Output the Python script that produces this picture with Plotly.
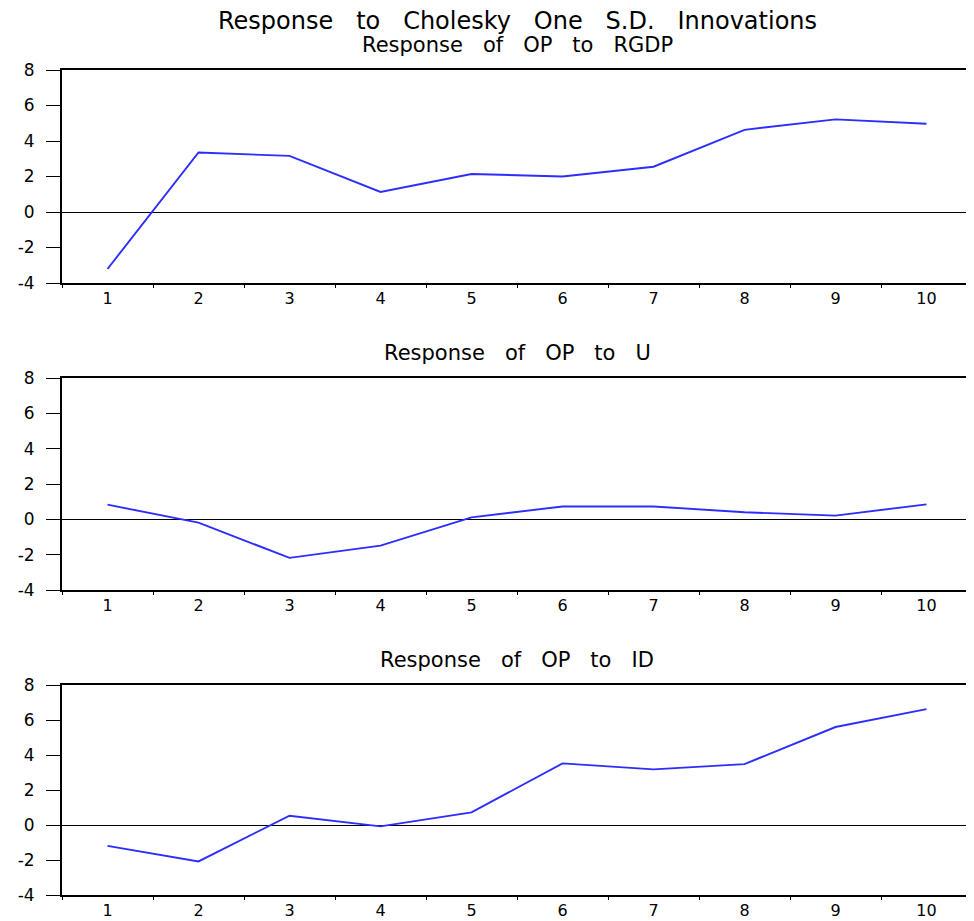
import plotly.graph_objects as go

periods = ["1", "2", "3", "4", "5", "6", "7", "8", "9", "10"]
resp_rgdp = [-3.21, 3.35, 3.16, 1.13, 2.14, 2.00, 2.55, 4.63, 5.22, 4.97]
resp_u = [0.83, -0.19, -2.18, -1.49, 0.11, 0.73, 0.73, 0.40, 0.21, 0.85]
resp_id = [-1.19, -2.08, 0.53, -0.08, 0.72, 3.52, 3.18, 3.48, 5.60, 6.62]
panel_titles = ["Response of OP to RGDP", "Response of OP to U", "Response of OP to ID"]
main_title = "Response to Cholesky One S.D. Innovations"
y_ticks = [-4, -2, 0, 2, 4, 6, 8]

# the page body adds an 8px offset; the figure is sized to the visible area
OFF = 8
W, H = 974 - OFF, 921 - OFF
FONT = "DejaVu Sans"
LINE_COLOR = "rgb(45,45,255)"

# panel pixel boxes (top, bottom) in page pixels
boxes = [(70, 283), (378, 590), (685, 895)]
BOX_LEFT, BOX_RIGHT = 62, 972

fig = go.Figure()
series = [resp_rgdp, resp_u, resp_id]


def spaced(s, n=3):
    return ("\u00a0" * n).join(s.split(" "))


for i, (vals, (top, bot)) in enumerate(zip(series, boxes), start=1):
    xa = "x" if i == 1 else f"x{i}"
    ya = "y" if i == 1 else f"y{i}"
    fig.add_trace(go.Scatter(x=periods, y=vals, mode="lines",
                             line=dict(color=LINE_COLOR, width=1.9),
                             xaxis=xa, yaxis=ya, showlegend=False,
                             hoverinfo="skip"))
    top_f, bot_f = top - OFF, bot - OFF
    dom = [1 - bot_f / H, 1 - top_f / H]
    xkey = "xaxis" if i == 1 else f"xaxis{i}"
    ykey = "yaxis" if i == 1 else f"yaxis{i}"
    fig.update_layout({
        xkey: dict(type="category", domain=[0, 1], anchor=ya,
                   range=[-0.5, len(periods) - 0.5], automargin=False,
                   tickson="boundaries", ticks="outside", ticklen=3,
                   tickcolor="black", tickwidth=1,
                   showline=True, linecolor="black", linewidth=2, mirror=True,
                   showgrid=False, zeroline=False,
                   tickfont=dict(family=FONT, size=16, color="black")),
        ykey: dict(domain=dom, anchor=xa, range=[-4, 8], automargin=False,
                   tickvals=y_ticks, ticktext=[str(v) for v in y_ticks],
                   ticks="outside", ticklen=14, tickcolor="black", tickwidth=1,
                   ticklabelstandoff=8,
                   showline=True, linecolor="black", linewidth=2, mirror=True,
                   showgrid=False, zeroline=True, zerolinecolor="black",
                   zerolinewidth=1,
                   tickfont=dict(family=FONT, size=17, color="black")),
    })
    fig.add_annotation(text=spaced(panel_titles[i - 1], 3), x=0.5, xref="paper",
                       y=1 - (top - 25 - OFF) / H, yref="paper", yanchor="middle",
                       showarrow=False,
                       font=dict(family=FONT, size=21, color="black"))

fig.add_annotation(text=spaced(main_title, 3), x=0.5, xref="paper",
                   y=1.0, yref="paper", yanchor="top", yshift=3, showarrow=False,
                   font=dict(family=FONT, size=24, color="black"))

fig.update_layout(template="none", width=W, height=H,
                  margin=dict(l=BOX_LEFT - OFF, r=W - (BOX_RIGHT - OFF), t=0, b=0,
                              autoexpand=False),
                  paper_bgcolor="white", plot_bgcolor="white",
                  font=dict(family=FONT, color="black"))

fig.write_html("out.html")
